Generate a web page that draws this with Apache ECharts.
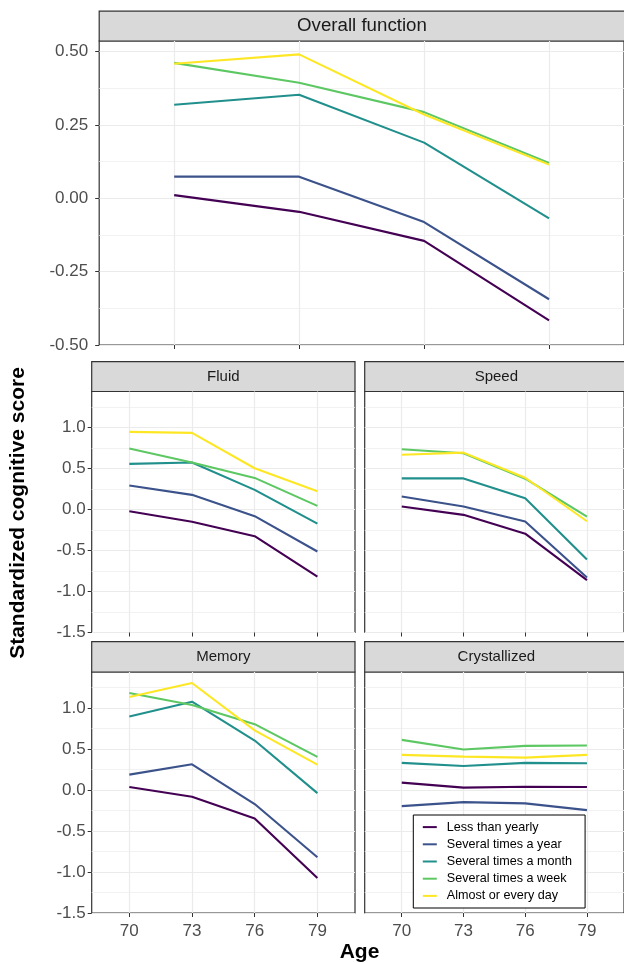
<!DOCTYPE html>
<html><head><meta charset="utf-8">
<script src="https://cdn.jsdelivr.net/npm/echarts@6/dist/echarts.min.js"></script>
<style>html,body{margin:0;padding:0;background:#fff}#c{width:624px;height:963px}</style>
</head><body><div id="c"></div>
<script>
// ---------- data ----------
const ages = [70, 73, 76, 79];
const groups = ['Less than yearly', 'Several times a year', 'Several times a month', 'Several times a week', 'Almost or every day'];
const panelTitles = ['Overall function', 'Fluid', 'Speed', 'Memory', 'Crystallized'];

// rows follow the order of `groups`, columns follow `ages`
const overallValues = [
  [0.011, -0.046, -0.145, -0.416],
  [0.074, 0.074, -0.081, -0.344],
  [0.319, 0.353, 0.190, -0.068],
  [0.462, 0.394, 0.294, 0.121],
  [0.459, 0.491, 0.286, 0.115]
];
const fluidValues = [
  [-0.020, -0.150, -0.325, -0.817],
  [0.293, 0.179, -0.081, -0.512],
  [0.557, 0.573, 0.240, -0.171],
  [0.744, 0.573, 0.386, 0.045],
  [0.947, 0.935, 0.504, 0.224]
];
const speedValues = [
  [0.037, -0.065, -0.294, -0.861],
  [0.159, 0.037, -0.147, -0.829],
  [0.380, 0.380, 0.139, -0.608],
  [0.735, 0.686, 0.376, -0.086],
  [0.669, 0.694, 0.388, -0.143]
];
const memoryValues = [
  [0.037, -0.082, -0.347, -1.073],
  [0.188, 0.314, -0.171, -0.820],
  [0.898, 1.078, 0.604, -0.037],
  [1.184, 1.037, 0.804, 0.404],
  [1.135, 1.306, 0.727, 0.310]
];
const crystallizedValues = [
  [0.090, 0.029, 0.041, 0.037],
  [-0.196, -0.147, -0.163, -0.245],
  [0.331, 0.294, 0.331, 0.327],
  [0.612, 0.494, 0.539, 0.543],
  [0.429, 0.408, 0.396, 0.429]
];
const overallYTicks = [-0.5, -0.25, 0, 0.25, 0.5];
const domainYTicks = [-1.5, -1.0, -0.5, 0, 0.5, 1.0];

// ---------- style / layout ----------
const colors = ['#440154', '#3B528B', '#21908C', '#5DC863', '#FDE725'];
const FONT = '"Liberation Sans", Arial, Helvetica, sans-serif';
const panelValues = [overallValues, fluidValues, speedValues, memoryValues, crystallizedValues];
const layout = [
  {left: 99.2, top: 41, width: 525.5, height: 304, stripTop: 11.2, stripFont: 18.7, yMin: -0.5, yMax: 0.5365, interval: 0.25, ticks: overallYTicks, digits: 2, showX: false, labelMargin: 11},
  {left: 91.7, top: 391.5, width: 263.3, height: 241, stripTop: 361.7, stripFont: 15, yMin: -1.5, yMax: 1.44, interval: 0.5, ticks: domainYTicks, digits: 1, showX: false, labelMargin: 6},
  {left: 364.7, top: 391.5, width: 263.3, height: 241, stripTop: 361.7, stripFont: 15, yMin: -1.5, yMax: 1.44, interval: 0.5, ticks: domainYTicks, digits: 1, showX: false, labelMargin: 6, noYLabels: true},
  {left: 91.7, top: 672, width: 263.3, height: 241, stripTop: 641.7, stripFont: 15, yMin: -1.5, yMax: 1.44, interval: 0.5, ticks: domainYTicks, digits: 1, showX: true, labelMargin: 6},
  {left: 364.7, top: 672, width: 263.3, height: 241, stripTop: 641.7, stripFont: 15, yMin: -1.5, yMax: 1.44, interval: 0.5, ticks: domainYTicks, digits: 1, showX: true, labelMargin: 6, noYLabels: true}
];

const grids = [], xAxes = [], yAxes = [], series = [], graphics = [];
layout.forEach((L, i) => {
  grids.push({left: L.left, top: L.top, width: L.width, height: L.height, show: true,
    borderColor: '#333333', borderWidth: 1.2, backgroundColor: '#ffffff', containLabel: false});
  xAxes.push({type: 'value', gridIndex: i, min: 68.2, max: 80.8,
    axisLine: {show: false, onZero: false},
    axisTick: {show: true, customValues: ages, length: 4, lineStyle: {color: '#333333', width: 1}},
    axisLabel: {show: L.showX, customValues: ages, margin: 10, color: '#4D4D4D', fontSize: 17, fontFamily: FONT},
    splitLine: {show: true, lineStyle: {color: '#EBEBEB', width: 1.2}}
  });
  yAxes.push({type: 'value', gridIndex: i, min: L.yMin, max: L.yMax, interval: L.interval,
    axisLine: {show: false, onZero: false},
    axisTick: {show: !L.noYLabels, customValues: L.ticks, length: 4, lineStyle: {color: '#333333', width: 1}},
    axisLabel: {show: !L.noYLabels, customValues: L.ticks, margin: L.labelMargin, color: '#4D4D4D', fontSize: 17, fontFamily: FONT,
      formatter: v => Number(v).toFixed(L.digits)},
    splitLine: {show: true, lineStyle: {color: '#EBEBEB', width: 1.2}},
    minorTick: {show: false, splitNumber: 2},
    minorSplitLine: {show: true, lineStyle: {color: '#EFEFEF', width: 0.8}}
  });
  panelValues[i].forEach((vals, g) => {
    series.push({type: 'line', name: groups[g], xAxisIndex: i, yAxisIndex: i,
      data: ages.map((a, k) => [a, vals[k]]),
      symbol: 'none', silent: true, animation: false, z: 3 + g,
      lineStyle: {color: colors[g], width: 2.1}, itemStyle: {color: colors[g]}});
  });
  const sh = L.top - L.stripTop;
  graphics.push({type: 'rect', shape: {x: L.left, y: L.stripTop, width: L.width, height: sh},
    style: {fill: '#D9D9D9', stroke: '#333333', lineWidth: 1.2}, silent: true});
  graphics.push({type: 'text', x: L.left + L.width / 2, y: L.stripTop + sh / 2,
    style: {text: panelTitles[i], x: 0, y: 0, textAlign: 'center', textVerticalAlign: 'middle', align: 'center', verticalAlign: 'middle',
      font: L.stripFont + 'px ' + FONT, fill: '#1A1A1A'}, silent: true});
});

graphics.push({type: 'text', x: 18, y: 513, rotation: Math.PI / 2,
  style: {text: 'Standardized cognitive score', x: 0, y: 0, textAlign: 'center', textVerticalAlign: 'middle', align: 'center', verticalAlign: 'middle',
    font: 'bold 21px ' + FONT, fill: '#000000'}, silent: true});
graphics.push({type: 'text', x: 359.5, y: 952,
  style: {text: 'Age', x: 0, y: 0, textAlign: 'center', textVerticalAlign: 'middle', align: 'center', verticalAlign: 'middle',
    font: 'bold 21px ' + FONT, fill: '#000000'}, silent: true});

const chart = echarts.init(document.getElementById('c'), null, {renderer: 'canvas'});
chart.setOption({
  animation: false,
  backgroundColor: '#ffffff',
  grid: grids, xAxis: xAxes, yAxis: yAxes, series: series,
  legend: {data: groups, left: 413.3, top: 815, orient: 'vertical', icon: 'rect', itemWidth: 14, itemHeight: 2, itemGap: 0,
    padding: [3.5, 13, 3.5, 9.5], borderColor: '#000000', borderWidth: 1, backgroundColor: '#ffffff', selectedMode: false,
    textStyle: {fontSize: 12.6, fontFamily: FONT, color: '#000000', lineHeight: 17.2, padding: [0, 0, 0, 5]}},
  graphic: {elements: graphics}
});
</script></body></html>
